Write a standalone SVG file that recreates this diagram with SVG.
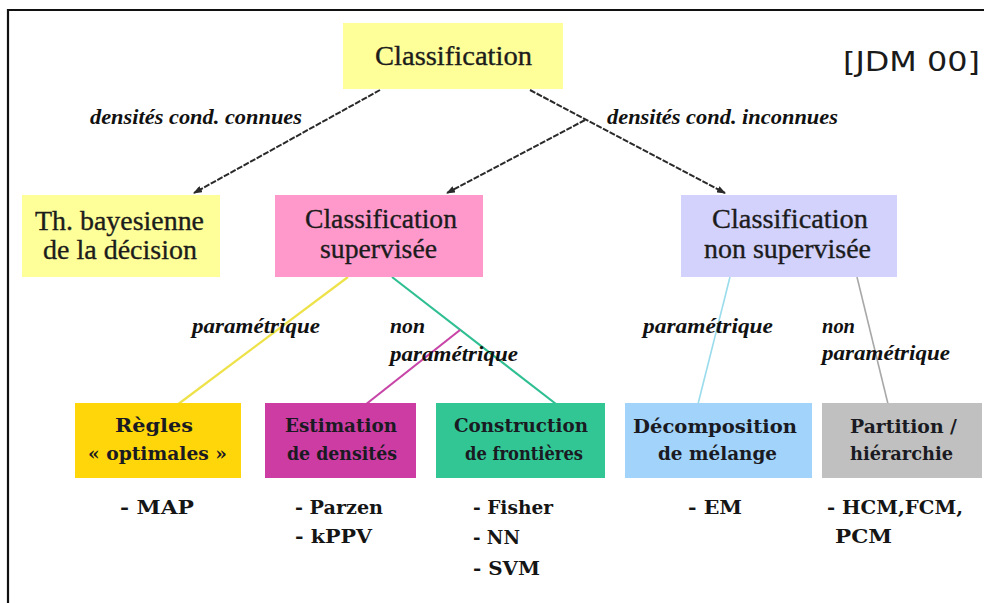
<svg xmlns="http://www.w3.org/2000/svg" width="984" height="603" viewBox="0 0 984 603">
<style>
.bg{fill:#ffffff}
.frame{stroke:#111;stroke-width:2.2;fill:none}
.arrow{stroke:#2a2a2a;stroke-width:2;fill:none;stroke-dasharray:6 1.5}
.lbl{font-family:"Liberation Serif",serif;font-weight:bold;font-style:italic;font-size:22px;fill:#111}
.t1{font-family:"Liberation Serif",serif;font-size:28px;fill:#1c1c1c;stroke:#1c1c1c;stroke-width:0.35}
.t2{font-family:"DejaVu Serif",serif;font-weight:bold;font-size:19px;fill:#1a1a22}
.lst{font-family:"DejaVu Serif",serif;font-weight:bold;font-size:19px;fill:#151515}
.ref{font-family:"DejaVu Sans",sans-serif;font-size:26px;fill:#1a1a1a}
</style>
<defs>
<marker id="ah" markerWidth="9" markerHeight="7" refX="8" refY="3.5" orient="auto" markerUnits="userSpaceOnUse">
<path d="M0,0 L9,3.5 L0,7 z" fill="#2a2a2a"/>
</marker>
</defs>
<rect class="bg" x="0" y="0" width="984" height="603"/>
<path class="frame" d="M8,603 L8,10 L984,10"/>
<text class="ref" x="843" y="71" textLength="137" lengthAdjust="spacingAndGlyphs">[JDM 00]</text>

<g id="connectors">
<line class="arrow" x1="380" y1="90" x2="194" y2="193" marker-end="url(#ah)"/>
<line class="arrow" x1="530" y1="90" x2="725" y2="193" marker-end="url(#ah)"/>
<line class="arrow" x1="585" y1="120" x2="447" y2="193" marker-end="url(#ah)"/>
<line x1="348" y1="277" x2="177" y2="405" stroke="#EEE24A" stroke-width="2.2"/>
<line x1="392" y1="277" x2="556" y2="404" stroke="#2FBF92" stroke-width="2.2"/>
<line x1="460" y1="330" x2="365" y2="405" stroke="#C845A8" stroke-width="2.2"/>
<line x1="730" y1="277" x2="698" y2="404" stroke="#9ADCEC" stroke-width="1.6"/>
<line x1="857" y1="277" x2="888" y2="404" stroke="#A8A8A8" stroke-width="1.6"/>
</g>

<g id="labels">
<text class="lbl" x="90" y="124" textLength="212" lengthAdjust="spacingAndGlyphs">densités cond. connues</text>
<text class="lbl" x="607" y="124" textLength="231" lengthAdjust="spacingAndGlyphs">densités cond. inconnues</text>
<text class="lbl" x="192" y="333" textLength="128" lengthAdjust="spacingAndGlyphs">paramétrique</text>
<text class="lbl" x="390" y="333" textLength="35" lengthAdjust="spacingAndGlyphs">non</text>
<text class="lbl" x="390" y="361" textLength="128" lengthAdjust="spacingAndGlyphs">paramétrique</text>
<text class="lbl" x="643" y="333" textLength="130" lengthAdjust="spacingAndGlyphs">paramétrique</text>
<text class="lbl" x="822" y="333" textLength="33" lengthAdjust="spacingAndGlyphs">non</text>
<text class="lbl" x="822" y="360" textLength="128" lengthAdjust="spacingAndGlyphs">paramétrique</text>
</g>

<g id="classification">
<rect x="343" y="23" width="220" height="66" fill="#FFFF99"/>
<text class="t1" x="453.5" y="65" text-anchor="middle" textLength="157" lengthAdjust="spacingAndGlyphs">Classification</text>
</g>

<g id="bayes">
<rect x="22" y="195" width="198" height="82" fill="#FFFF99"/>
<text class="t1" x="119.5" y="230" text-anchor="middle" textLength="169" lengthAdjust="spacingAndGlyphs">Th. bayesienne</text>
<text class="t1" x="120" y="259" text-anchor="middle" textLength="154" lengthAdjust="spacingAndGlyphs">de la décision</text>
</g>

<g id="supervisee">
<rect x="275" y="195" width="208" height="82" fill="#FF99CC"/>
<text class="t1" x="381" y="228" text-anchor="middle" textLength="152" lengthAdjust="spacingAndGlyphs">Classification</text>
<text class="t1" x="378.5" y="258" text-anchor="middle" textLength="117" lengthAdjust="spacingAndGlyphs">supervisée</text>
</g>

<g id="non-supervisee">
<rect x="681" y="195" width="216" height="82" fill="#D2D2FC"/>
<text class="t1" x="790" y="228" text-anchor="middle" textLength="156" lengthAdjust="spacingAndGlyphs">Classification</text>
<text class="t1" x="787.5" y="258" text-anchor="middle" textLength="167" lengthAdjust="spacingAndGlyphs">non supervisée</text>
</g>

<g id="regles">
<rect x="75" y="403" width="166" height="75" fill="#FFD60A"/>
<text class="t2" x="154" y="432" text-anchor="middle" textLength="78" lengthAdjust="spacingAndGlyphs">Règles</text>
<text class="t2" x="157.5" y="460" text-anchor="middle" textLength="139" lengthAdjust="spacingAndGlyphs">« optimales »</text>
<text class="lst" x="120" y="514" textLength="74" lengthAdjust="spacingAndGlyphs">- MAP</text>
</g>

<g id="estimation">
<rect x="265" y="403" width="151" height="75" fill="#CC3CA3"/>
<text class="t2" x="341" y="432" text-anchor="middle" textLength="112" lengthAdjust="spacingAndGlyphs">Estimation</text>
<text class="t2" x="342" y="460" text-anchor="middle" textLength="110" lengthAdjust="spacingAndGlyphs">de densités</text>
<text class="lst" x="295" y="514" textLength="88" lengthAdjust="spacingAndGlyphs">- Parzen</text>
<text class="lst" x="295" y="543" textLength="77" lengthAdjust="spacingAndGlyphs">- kPPV</text>
</g>

<g id="construction">
<rect x="436" y="403" width="169" height="75" fill="#31C694"/>
<text class="t2" x="521" y="432" text-anchor="middle" textLength="134" lengthAdjust="spacingAndGlyphs">Construction</text>
<text class="t2" x="524" y="460" text-anchor="middle" textLength="118" lengthAdjust="spacingAndGlyphs">de frontières</text>
<text class="lst" x="473" y="514" textLength="80" lengthAdjust="spacingAndGlyphs">- Fisher</text>
<text class="lst" x="473" y="544" textLength="47" lengthAdjust="spacingAndGlyphs">- NN</text>
<text class="lst" x="473" y="575" textLength="67" lengthAdjust="spacingAndGlyphs">- SVM</text>
</g>

<g id="decomposition">
<rect x="625" y="403" width="187" height="75" fill="#A2D3FB"/>
<text class="t2" x="715" y="433" text-anchor="middle" textLength="164" lengthAdjust="spacingAndGlyphs">Décomposition</text>
<text class="t2" x="717.5" y="460" text-anchor="middle" textLength="119" lengthAdjust="spacingAndGlyphs">de mélange</text>
<text class="lst" x="688" y="514" textLength="54" lengthAdjust="spacingAndGlyphs">- EM</text>
</g>

<g id="partition">
<rect x="822" y="403" width="160" height="75" fill="#C0C0C0"/>
<text class="t2" x="903.5" y="433" text-anchor="middle" textLength="107" lengthAdjust="spacingAndGlyphs">Partition /</text>
<text class="t2" x="901.5" y="460" text-anchor="middle" textLength="103" lengthAdjust="spacingAndGlyphs">hiérarchie</text>
<text class="lst" x="827" y="514" textLength="136" lengthAdjust="spacingAndGlyphs">- HCM,FCM,</text>
<text class="lst" x="835" y="543" textLength="57" lengthAdjust="spacingAndGlyphs">PCM</text>
</g>
</svg>
